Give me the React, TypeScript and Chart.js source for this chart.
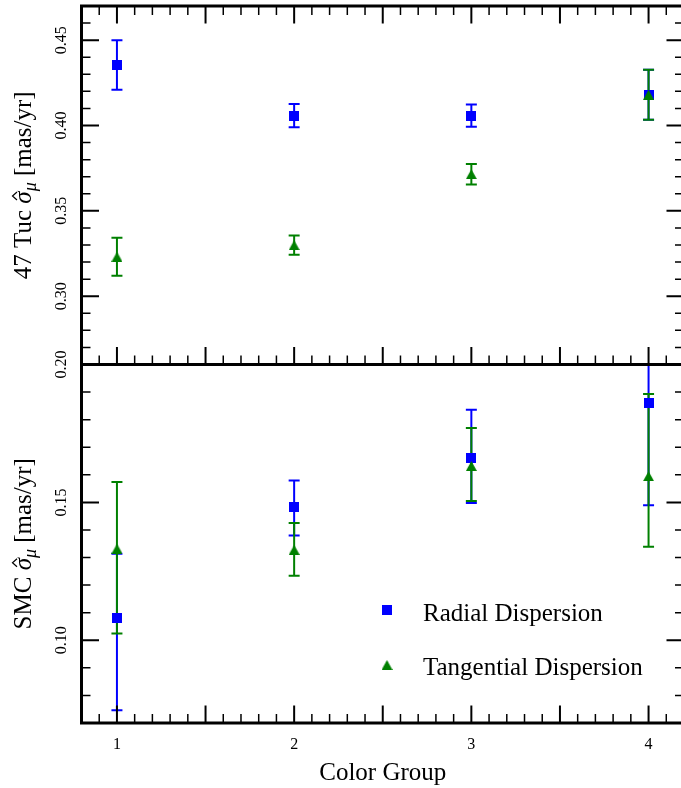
import React, { useEffect, useRef } from 'react';
import { Chart, registerables } from 'chart.js';

Chart.register(...registerables);

// ---------------- data ----------------
const colorGroups = [1, 2, 3, 4];
const xMajorTicks = [1, 1.5, 2, 2.5, 3, 3.5, 4];
const xTickLabels = [1, 2, 3, 4];
const xRange = [0.8, 4.2];

const tucRadial = [0.4355, 0.4058, 0.4058, 0.418];
const tucRadialErr = [0.0145, 0.0068, 0.0065, 0.0147];
const tucTangential = [0.3231, 0.3299, 0.3715, 0.418];
const tucTangentialErr = [0.0111, 0.0056, 0.006, 0.0147];

const smcRadial = [0.108, 0.1482, 0.166, 0.1862];
const smcRadialErrLow = [0.0334, 0.0102, 0.0162, 0.0372];
const smcRadialErrHigh = [0.0234, 0.0097, 0.0176, 0.0372];
const smcTangential = [0.1332, 0.1328, 0.1632, 0.1595];
const smcTangentialErrLow = [0.0307, 0.0094, 0.0127, 0.0256];
const smcTangentialErrHigh = [0.0242, 0.0097, 0.0138, 0.0298];

const tucYTicks = [0.3, 0.35, 0.4, 0.45];
const smcYTicks = [0.1, 0.15, 0.2];
const tucRange = [0.26, 0.47];
const smcRange = [0.07, 0.2];
const yMinorStep = 0.01;
const xMinorStep = 0.1;

const legendLabels = ['Radial Dispersion', 'Tangential Dispersion'];
const tucTitle = '47 Tuc';
const smcTitle = 'SMC';
const xTitle = 'Color Group';

// ---------------- style ----------------
const BLUE = '#0000ff';
const GREEN = '#008000';
const SERIF = '"Liberation Serif", "Times New Roman", serif';
const MAJOR = 17.5;
const MINOR = 9;

function makeSquare() {
  const c = document.createElement('canvas');
  c.width = 10;
  c.height = 10;
  const g = c.getContext('2d')!;
  g.fillStyle = BLUE;
  g.fillRect(0, 0, 10, 10);
  return c;
}

function makeTriangle() {
  const c = document.createElement('canvas');
  c.width = 11;
  c.height = 10;
  const g = c.getContext('2d')!;
  g.fillStyle = GREEN;
  g.beginPath();
  g.moveTo(5.5, 0);
  g.lineTo(11, 10);
  g.lineTo(0, 10);
  g.closePath();
  g.fill();
  return c;
}

function minorValues(min: number, max: number, majors: number[], step: number) {
  const out: number[] = [];
  const n0 = Math.ceil(min / step - 1e-6);
  const n1 = Math.floor(max / step + 1e-6);
  for (let n = n0; n <= n1; n++) {
    const v = n * step;
    if (v <= min + 1e-6 || v >= max - 1e-6) continue;
    if (majors.some((m) => Math.abs(m - v) < 1e-6)) continue;
    out.push(v);
  }
  return out;
}

function drawYTitle(ctx: CanvasRenderingContext2D, prefix: string, cx: number, cy: number) {
  const big = `25px ${SERIF}`;
  const it = `italic 25px ${SERIF}`;
  const sub = `italic 18px ${SERIF}`;
  const parts = [
    { t: prefix + ' ', f: big, dy: 0, hat: false },
    { t: 'σ', f: it, dy: 0, hat: true },
    { t: 'μ', f: sub, dy: 5, hat: false },
    { t: ' [mas/yr]', f: big, dy: 0, hat: false },
  ];
  ctx.save();
  ctx.translate(cx, cy);
  ctx.rotate(-Math.PI / 2);
  ctx.fillStyle = '#000';
  ctx.strokeStyle = '#000';
  ctx.textBaseline = 'alphabetic';
  ctx.textAlign = 'left';
  const widths = parts.map((p) => {
    ctx.font = p.f;
    return ctx.measureText(p.t).width;
  });
  const total = widths.reduce((a, b) => a + b, 0);
  let u = -total / 2;
  parts.forEach((p, i) => {
    ctx.font = p.f;
    ctx.fillText(p.t, u, p.dy);
    if (p.hat) {
      const hc = u + widths[i] / 2 + 1.5;
      ctx.lineWidth = 1.2;
      ctx.beginPath();
      ctx.moveTo(hc - 4, -14);
      ctx.lineTo(hc, -18.5);
      ctx.lineTo(hc + 4, -14);
      ctx.stroke();
    }
    u += widths[i];
  });
  ctx.restore();
}

export default function App() {
  const ref = useRef<HTMLCanvasElement>(null);

  useEffect(() => {
    const canvas = ref.current!;
    const square = makeSquare();
    const tri = makeTriangle();

    const panelPlugin = {
      id: 'panels',
      beforeDatasetsDraw(chart: any) {
        const ctx: CanvasRenderingContext2D = chart.ctx;
        const xs = chart.scales.x;
        const area = chart.chartArea;
        chart.data.datasets.forEach((ds: any) => {
          const ys = chart.scales[ds.yAxisID];
          ctx.save();
          ctx.beginPath();
          ctx.rect(area.left, ys.top, area.right - area.left, ys.bottom - ys.top);
          ctx.clip();
          ctx.strokeStyle = ds.barColor;
          ctx.lineWidth = 2;
          ds.data.forEach((p: any, j: number) => {
            const px = xs.getPixelForValue(p.x);
            const yHi = ys.getPixelForValue(p.y + ds.errHigh[j]);
            const yLo = ys.getPixelForValue(p.y - ds.errLow[j]);
            ctx.beginPath();
            ctx.moveTo(px, yHi);
            ctx.lineTo(px, yLo);
            ctx.moveTo(px - 5.5, yHi);
            ctx.lineTo(px + 5.5, yHi);
            ctx.moveTo(px - 5.5, yLo);
            ctx.lineTo(px + 5.5, yLo);
            ctx.stroke();
          });
          ctx.restore();
        });
      },
      afterDraw(chart: any) {
        const ctx: CanvasRenderingContext2D = chart.ctx;
        const xs = chart.scales.x;
        const yt = chart.scales.yTop;
        const yb = chart.scales.yBot;
        const { left, right, top, bottom } = chart.chartArea;
        const mid = yt.bottom;

        ctx.save();
        ctx.strokeStyle = '#000';
        ctx.lineCap = 'butt';

        // x ticks
        const xMinors = minorValues(xRange[0], xRange[1], xMajorTicks, xMinorStep);
        const xTickRow = (edge: number, dir: number) => {
          ctx.lineWidth = 2;
          xMajorTicks.forEach((v) => {
            const px = xs.getPixelForValue(v);
            ctx.beginPath();
            ctx.moveTo(px, edge);
            ctx.lineTo(px, edge + dir * MAJOR);
            ctx.stroke();
          });
          ctx.lineWidth = 1.5;
          xMinors.forEach((v) => {
            const px = xs.getPixelForValue(v);
            ctx.beginPath();
            ctx.moveTo(px, edge);
            ctx.lineTo(px, edge + dir * MINOR);
            ctx.stroke();
          });
        };
        xTickRow(top, 1);
        xTickRow(mid, -1);
        xTickRow(bottom, -1);

        // y ticks
        const yTickCol = (scale: any, majors: number[], range: number[]) => {
          const minors = minorValues(range[0], range[1], majors, yMinorStep);
          ctx.lineWidth = 2;
          majors.forEach((v) => {
            const py = scale.getPixelForValue(v);
            ctx.beginPath();
            ctx.moveTo(left, py);
            ctx.lineTo(left + MAJOR, py);
            ctx.moveTo(right, py);
            ctx.lineTo(right - MAJOR, py);
            ctx.stroke();
          });
          ctx.lineWidth = 1.5;
          minors.forEach((v) => {
            const py = scale.getPixelForValue(v);
            ctx.beginPath();
            ctx.moveTo(left, py);
            ctx.lineTo(left + MINOR, py);
            ctx.moveTo(right, py);
            ctx.lineTo(right - MINOR, py);
            ctx.stroke();
          });
        };
        yTickCol(yt, tucYTicks, tucRange);
        yTickCol(yb, smcYTicks, smcRange);

        // spines
        ctx.lineWidth = 3;
        ctx.beginPath();
        ctx.rect(left, top, right - left, bottom - top);
        ctx.moveTo(left, mid);
        ctx.lineTo(right, mid);
        ctx.stroke();

        // y tick labels (rotated)
        ctx.fillStyle = '#000';
        ctx.font = `16px ${SERIF}`;
        ctx.textAlign = 'center';
        ctx.textBaseline = 'middle';
        const yLabel = (scale: any, v: number) => {
          const py = scale.getPixelForValue(v);
          ctx.save();
          ctx.translate(62, py);
          ctx.rotate(-Math.PI / 2);
          ctx.fillText(v.toFixed(2), 0, 0);
          ctx.restore();
        };
        tucYTicks.forEach((v) => yLabel(yt, v));
        smcYTicks.forEach((v) => yLabel(yb, v));

        // y titles
        drawYTitle(ctx, tucTitle, 31, (yt.top + yt.bottom) / 2);
        drawYTitle(ctx, smcTitle, 31, (yb.top + yb.bottom) / 2);

        // legend
        ctx.drawImage(square, 387 - 5, 610 - 5);
        ctx.drawImage(tri, 387 - 5.5, 665 - 5);
        ctx.font = `25px ${SERIF}`;
        ctx.textAlign = 'left';
        ctx.textBaseline = 'alphabetic';
        ctx.fillText(legendLabels[0], 423, 621);
        ctx.fillText(legendLabels[1], 423, 675);
        ctx.restore();
      },
    };

    const chart = new Chart(canvas, {
      type: 'scatter',
      data: {
        datasets: [
          {
            label: legendLabels[0],
            data: colorGroups.map((g, i) => ({ x: g, y: tucRadial[i] })),
            yAxisID: 'yTop',
            pointStyle: square,
            backgroundColor: BLUE,
            borderColor: BLUE,
            order: 1,
            barColor: BLUE,
            errLow: tucRadialErr,
            errHigh: tucRadialErr,
          } as any,
          {
            label: legendLabels[1],
            data: colorGroups.map((g, i) => ({ x: g, y: tucTangential[i] })),
            yAxisID: 'yTop',
            pointStyle: tri,
            backgroundColor: GREEN,
            borderColor: GREEN,
            order: 0,
            barColor: GREEN,
            errLow: tucTangentialErr,
            errHigh: tucTangentialErr,
          } as any,
          {
            label: legendLabels[0],
            data: colorGroups.map((g, i) => ({ x: g, y: smcRadial[i] })),
            yAxisID: 'yBot',
            pointStyle: square,
            backgroundColor: BLUE,
            borderColor: BLUE,
            order: 1,
            barColor: BLUE,
            errLow: smcRadialErrLow,
            errHigh: smcRadialErrHigh,
          } as any,
          {
            label: legendLabels[1],
            data: colorGroups.map((g, i) => ({ x: g, y: smcTangential[i] })),
            yAxisID: 'yBot',
            pointStyle: tri,
            backgroundColor: GREEN,
            borderColor: GREEN,
            order: 0,
            barColor: GREEN,
            errLow: smcTangentialErrLow,
            errHigh: smcTangentialErrHigh,
          } as any,
        ],
      },
      options: {
        animation: false,
        responsive: false,
        devicePixelRatio: 1,
        layout: { padding: { top: 3, right: 16, left: 0, bottom: 0 } },
        plugins: { legend: { display: false }, tooltip: { enabled: false } },
        elements: { point: { radius: 6, borderWidth: 0 } },
        scales: {
          x: {
            type: 'linear',
            min: xRange[0],
            max: xRange[1],
            grid: { display: false, drawTicks: false },
            border: { display: false },
            afterBuildTicks: (s: any) => {
              s.ticks = xTickLabels.map((v) => ({ value: v }));
            },
            ticks: {
              color: '#000',
              font: { family: SERIF, size: 16 },
              padding: 12,
              callback: (v: any) => String(v),
            },
            title: {
              display: true,
              text: xTitle,
              color: '#000',
              font: { family: SERIF, size: 25 },
              padding: { top: 0, bottom: 0 },
            },
            afterFit: (s: any) => {
              s.height = 65;
            },
          },
          yTop: {
            type: 'linear',
            position: 'left',
            stack: 'panels',
            stackWeight: 1,
            weight: 2,
            min: tucRange[0],
            max: tucRange[1],
            grid: { display: false, drawTicks: false },
            border: { display: false },
            ticks: { display: false },
            afterFit: (s: any) => {
              s.width = 81.5;
            },
          },
          yBot: {
            type: 'linear',
            position: 'left',
            stack: 'panels',
            stackWeight: 1,
            weight: 1,
            min: smcRange[0],
            max: smcRange[1],
            grid: { display: false, drawTicks: false },
            border: { display: false },
            ticks: { display: false },
            afterFit: (s: any) => {
              s.width = 81.5;
            },
          },
        } as any,
      },
      plugins: [panelPlugin],
    });

    return () => chart.destroy();
  }, []);

  return (
    <div
      style={{
        position: 'fixed',
        left: 0,
        top: 0,
        width: 681,
        height: 788,
        overflow: 'hidden',
        background: '#fff',
      }}
    >
      <canvas ref={ref} width={700} height={788} style={{ width: 700, height: 788, display: 'block' }} />
    </div>
  );
}
